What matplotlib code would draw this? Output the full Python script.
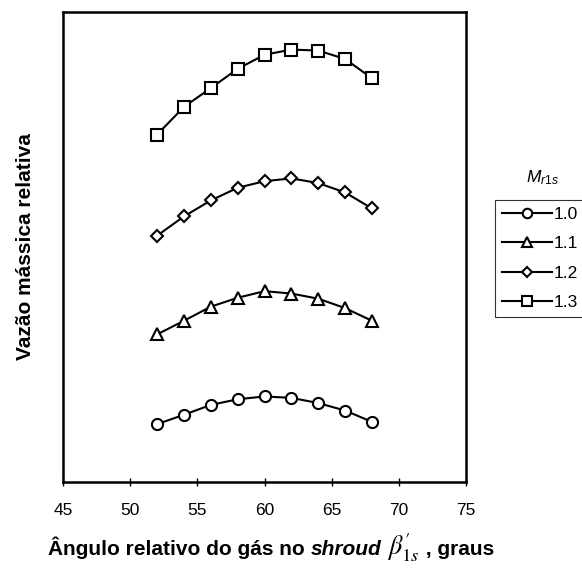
import matplotlib
matplotlib.use("Agg")
import matplotlib.pyplot as plt
from matplotlib.offsetbox import TextArea, HPacker, AnchoredOffsetbox

plt.rcParams['font.family'] = ['Liberation Sans', 'DejaVu Sans']
plt.rcParams['mathtext.fontset'] = 'custom'
plt.rcParams['mathtext.rm'] = 'Liberation Sans'
plt.rcParams['mathtext.it'] = 'Liberation Sans:italic'
plt.rcParams['mathtext.bf'] = 'Liberation Sans:bold'

angles = [52, 54, 56, 58, 60, 62, 64, 66, 68]
m10 = [12.3, 14.3, 16.4, 17.6, 18.2, 17.9, 16.8, 15.2, 12.8]
m11 = [31.4, 34.3, 37.3, 39.2, 40.6, 40.1, 39.0, 37.0, 34.3]
m12 = [52.4, 56.5, 59.9, 62.6, 64.0, 64.6, 63.6, 61.6, 58.2]
m13 = [73.9, 79.8, 83.8, 87.9, 90.9, 92.0, 91.8, 90.0, 85.9]
series_labels = ["1.0", "1.1", "1.2", "1.3"]
xticks = [45, 50, 55, 60, 65, 70, 75]

fig = plt.figure(figsize=(5.82, 5.73), dpi=100)
ax = fig.add_axes([63/582, 1-482/573, (466-63)/582, (482-12)/573])

styles = [dict(marker='o', ms=8), dict(marker='^', ms=9),
          dict(marker='D', ms=6.5), dict(marker='s', ms=8.5)]
for ys, lab, st in zip([m10, m11, m12, m13], series_labels, styles):
    ax.plot(angles, ys, color='black', lw=1.5, mfc='white', mec='black',
            mew=1.5, label=lab, **st)

ax.set_xlim(45, 75)
ax.set_ylim(0, 100)
ax.set_xticks(xticks)
ax.set_yticks([])
ax.tick_params(axis='x', direction='inout', length=6, width=1, labelsize=12.5, pad=12)
for s in ax.spines.values():
    s.set_linewidth(1.8)

ax.set_ylabel("Vazão mássica relativa", fontsize=15, fontweight='bold', labelpad=20)

leg = fig.legend(loc='upper left', bbox_to_anchor=(495/582, 1-200/573),
                 frameon=True, fancybox=False, fontsize=12.5, handlelength=2.9,
                 handletextpad=0.1, borderpad=0.4, labelspacing=0.82,
                 borderaxespad=0, markerscale=0.85)
leg.get_frame().set_edgecolor('black')
leg.get_frame().set_linewidth(0.8)

fig.text(543/582, 1-178/573, r"$M_{r1s}$", ha='center', va='center', fontsize=12.5)

# x label built from pieces
fp_b = dict(fontsize=15, fontweight='bold', family='Liberation Sans')
t1 = TextArea("Ângulo relativo do gás no ", textprops=fp_b)
t2 = TextArea("shroud", textprops=dict(fp_b, fontstyle='italic'))
t3 = TextArea(r" $\beta_{1s}^{\prime}$", textprops=dict(fontsize=19, math_fontfamily='stix'))
t4 = TextArea(" , graus", textprops=fp_b)
box = HPacker(children=[t1, t2, t3, t4], align='baseline', pad=0, sep=0)
ab = AnchoredOffsetbox(loc='center', child=box, frameon=False,
                       bbox_to_anchor=(271/582, 1-548/573),
                       bbox_transform=fig.transFigure, pad=0, borderpad=0)
fig.add_artist(ab)

fig.savefig("out.png", dpi=100)
